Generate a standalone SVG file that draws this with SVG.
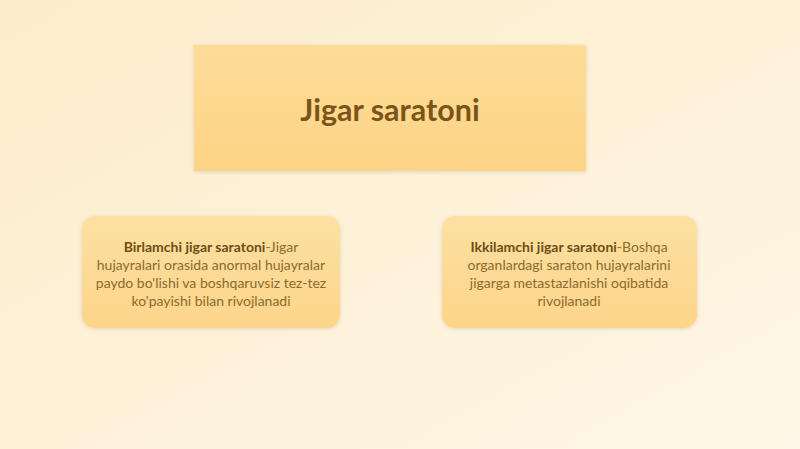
<svg xmlns="http://www.w3.org/2000/svg" width="800" height="449" viewBox="0 0 800 449">
<defs>
<linearGradient id="bg" x1="0" y1="0" x2="1" y2="1">
<stop offset="0" stop-color="#fcecc9"/>
<stop offset="0.5" stop-color="#fdf1d8"/>
<stop offset="1" stop-color="#fef6e6"/>
</linearGradient>
<linearGradient id="tbox" x1="0" y1="0" x2="0" y2="1">
<stop offset="0" stop-color="#fddc98"/>
<stop offset="1" stop-color="#fdd486"/>
</linearGradient>
<linearGradient id="cbox" x1="0" y1="0" x2="0" y2="1">
<stop offset="0" stop-color="#fde0a2"/>
<stop offset="1" stop-color="#fcd58a"/>
</linearGradient>
<filter id="soft" x="-10%" y="-10%" width="120%" height="130%">
<feGaussianBlur in="SourceAlpha" stdDeviation="2"/>
<feOffset dy="1"/>
<feComponentTransfer><feFuncA type="linear" slope="0.12"/></feComponentTransfer>
<feMerge><feMergeNode/><feMergeNode in="SourceGraphic"/></feMerge>
</filter>
</defs>
<style>
.title{font-family:Lato,"Liberation Sans",sans-serif;font-weight:bold;font-size:30.5px;fill:#7a5516;text-anchor:middle}
.body{font-family:Lato,"Liberation Sans",sans-serif;font-size:14px;fill:#8c6a2c;text-anchor:middle}
.b{font-weight:bold;fill:#6e4d14}
</style>
<rect width="800" height="449" fill="url(#bg)"/>
<g id="connectors"></g>
<g id="title-node">
<rect x="194" y="45" width="392" height="126" fill="url(#tbox)" filter="url(#soft)"/>
<text class="title" x="390" y="121">Jigar saratoni</text>
</g>
<g id="primary-node">
<rect x="82" y="216" width="258" height="112" rx="13" fill="url(#cbox)" filter="url(#soft)"/>
<text class="body" x="211" y="252"><tspan class="b">Birlamchi jigar saratoni</tspan>-Jigar</text>
<text class="body" x="211" y="270">hujayralari orasida anormal hujayralar</text>
<text class="body" x="211" y="288">paydo bo'lishi va boshqaruvsiz tez-tez</text>
<text class="body" x="211" y="306">ko'payishi bilan rivojlanadi</text>
</g>
<g id="secondary-node">
<rect x="442" y="216" width="255" height="112" rx="13" fill="url(#cbox)" filter="url(#soft)"/>
<text class="body" x="569" y="252"><tspan class="b">Ikkilamchi jigar saratoni</tspan>-Boshqa</text>
<text class="body" x="569" y="270">organlardagi saraton hujayralarini</text>
<text class="body" x="569" y="288">jigarga metastazlanishi oqibatida</text>
<text class="body" x="569" y="306">rivojlanadi</text>
</g>
</svg>
